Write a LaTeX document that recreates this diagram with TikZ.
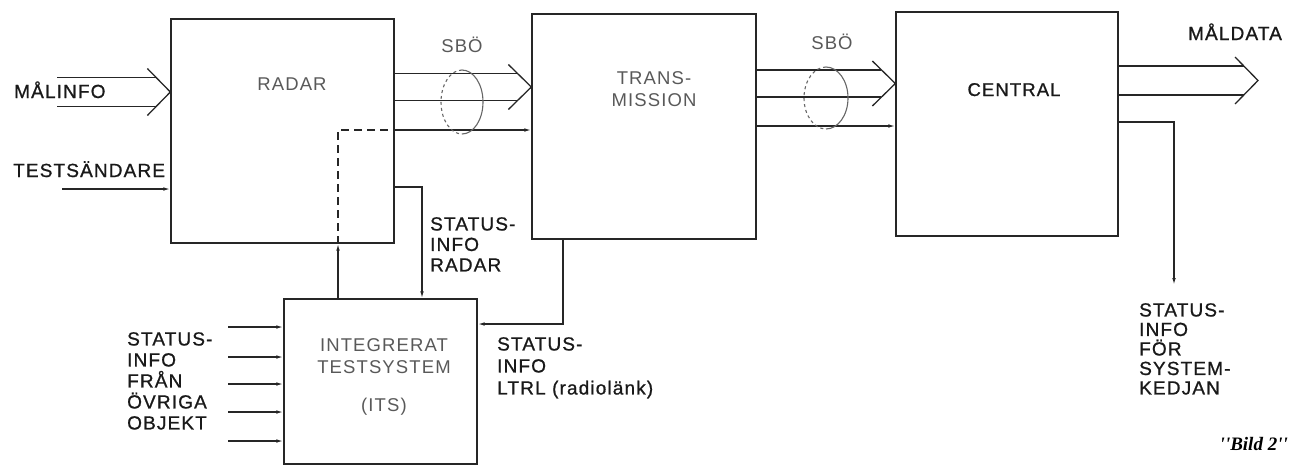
\documentclass[tikz,border=0pt]{standalone}
\usepackage{fontspec}
\setmainfont{Liberation Sans}[LetterSpace=6]
\newfontfamily\lblfont{Liberation Sans}[LetterSpace=6,FakeBold=0.9]
\newfontfamily\bildfont{Liberation Serif}
\usetikzlibrary{arrows.meta,calc}
\tikzset{
  ln/.style={line width=1.3pt, draw=black!85},
  arr/.style={-{Latex[length=7pt,width=3.6pt]}},
  box/.style={ln, rectangle, inner sep=0pt},
  ell/.style={line width=1.1pt, draw=black!60},
  lbl/.style={inner sep=0pt, align=left, text=black!90, font=\lblfont\fontsize{19}{20.5}\selectfont},
  boxlbl/.style={inner sep=0pt, align=center, text=black!65, font=\fontsize{18.5}{22}\selectfont},
}
\newcommand\dblarr[3]{%
  \draw[ln] ($(#1)+(0,-#3)$) -- ($(#2)+(-14,-#3)$);
  \draw[ln] ($(#1)+(0,#3)$) -- ($(#2)+(-14,#3)$);
  \draw[ln, line join=miter] ($(#2)+(-23,-#3-9)$) -- (#2) -- ($(#2)+(-23,#3+9)$);
}
\begin{document}
\begin{tikzpicture}[x=1pt,y=-1pt]
\useasboundingbox (0,0) rectangle (1292,467);

% boxes
\node[box, minimum width=223pt, minimum height=224pt] (radar) at (282.5,131) {};
\node[box, minimum width=224pt, minimum height=225pt] (trans) at (644,126.5) {};
\node[box, minimum width=222pt, minimum height=224pt] (central) at (1007,124) {};
\node[box, minimum width=193pt, minimum height=165pt] (its) at (380.5,381.5) {};

% box labels
\node[boxlbl, anchor=base] (radarT) at (292,90) {RADAR};
\node[boxlbl, anchor=north] (transT) at (654,71) {TRANS-\\MISSION};
\node[boxlbl, anchor=base, text=black!90, font=\lblfont\fontsize{18.5}{22}\selectfont] (centralT) at (1014,96) {CENTRAL};
\node[boxlbl, anchor=north] (itsT) at (384,338) {INTEGRERAT\\TESTSYSTEM\\[16pt](ITS)};

% outside labels
\node[lbl, anchor=base west] (malinfoT) at (14,98) {MÅLINFO};
\node[lbl, anchor=base west] (testT) at (13,177) {TESTSÄNDARE};
\node[boxlbl, anchor=base] (sbo1) at (462,52) {SBÖ};
\node[boxlbl, anchor=base] (sbo2) at (832,49) {SBÖ};
\node[lbl, anchor=base] (maldataT) at (1235,40) {MÅLDATA};
\node[lbl, anchor=north west] (statradT) at (430,217) {STATUS-\\INFO\\RADAR};
\node[lbl, anchor=north west, font=\lblfont\fontsize{19}{22}\selectfont] (statltrlT) at (497,337) {STATUS-\\INFO\\LTRL (radiolänk)};
\node[lbl, anchor=north west, font=\lblfont\fontsize{19}{21}\selectfont] (statobjT) at (127,332) {STATUS-\\INFO\\FRÅN\\ÖVRIGA\\OBJEKT};
\node[lbl, anchor=north west, font=\lblfont\fontsize{19}{19.5}\selectfont] (statsysT) at (1139,303) {STATUS-\\INFO\\FÖR\\SYSTEM-\\KEDJAN};
\node[inner sep=0pt, anchor=base east, font=\bildfont\bfseries\itshape\fontsize{19}{20}\selectfont] (bild) at (1288,450) {''Bild 2''};

% free ends
\coordinate (malinS) at (57,92);
\coordinate (testS) at (62,189);
\coordinate (maldataE) at (1258,80.5);
\coordinate (sysE) at (1174,285);
\coordinate (in1) at (228,327);
\coordinate (in2) at (228,357);
\coordinate (in3) at (228,384);
\coordinate (in4) at (228,412);
\coordinate (in5) at (228,441);

% double arrows
\dblarr{malinS}{radar.west |- 0,92}{14.5}
\dblarr{radar.east |- 0,87}{trans.west |- 0,87}{13.5}
\dblarr{trans.east |- 0,83.5}{central.west |- 0,83.5}{13.5}
\dblarr{central.east |- 0,80.5}{maldataE}{14.5}

% single arrows
\draw[ln,arr] (testS) -- (radar.west |- testS);
\draw[ln,arr] (radar.east |- 0,130) -- (trans.west |- 0,130);
\draw[ln,arr] (trans.east |- 0,126) -- (central.west |- 0,126);
\draw[ln,arr] (central.east |- 0,122) -| (sysE);
\draw[ln,dashed,dash pattern=on 8pt off 5pt] (radar.south -| 338,0) -- (338,130) -- (radar.east |- 0,130);
\draw[ln,arr] (its.north -| 338,0) -- (radar.south -| 338,0);
\draw[ln,arr] (radar.east |- 0,187) -| (its.north -| 422,0);
\draw[ln,arr] (trans.south -| 563,0) |- (its.east |- 0,324);
\foreach \i in {1,...,5} \draw[ln,arr] (in\i) -- (its.west |- in\i);

% SBÖ ellipses
\draw[ell] (462,70) arc[start angle=90,end angle=-90,x radius=21pt,y radius=32pt];
\draw[ell,dashed] (462,70) arc[start angle=90,end angle=270,x radius=21pt,y radius=32pt];
\draw[ell] (826,67) arc[start angle=90,end angle=-90,x radius=22pt,y radius=31pt];
\draw[ell,dashed] (826,67) arc[start angle=90,end angle=270,x radius=22pt,y radius=31pt];
\end{tikzpicture}
\end{document}
